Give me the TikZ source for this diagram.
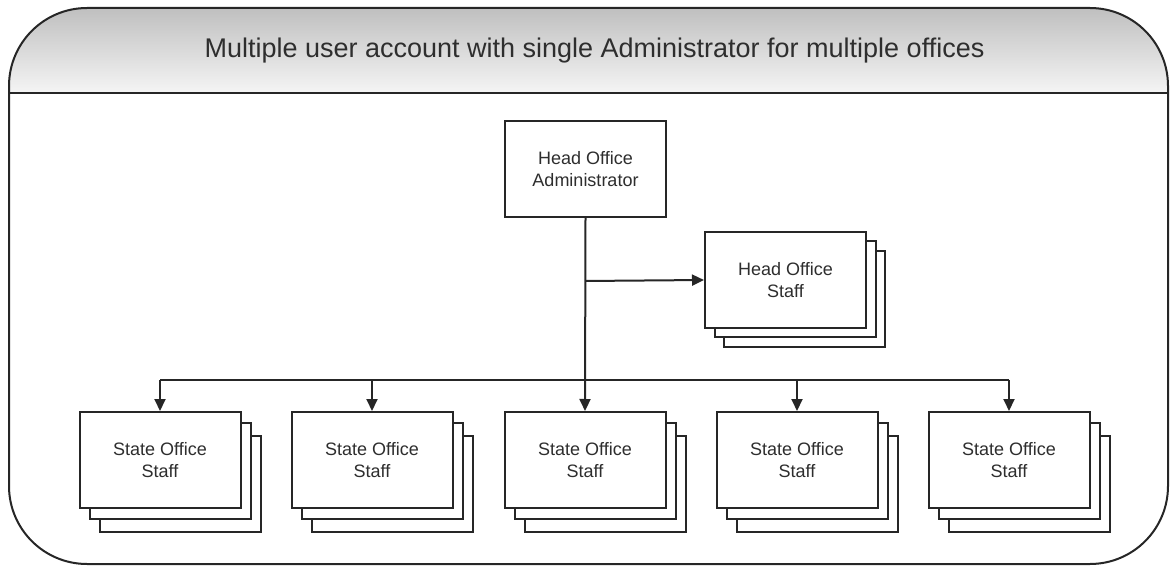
\documentclass[tikz,border=0pt]{standalone}
\usepackage{fontspec}
\setmainfont{Liberation Sans}
\usetikzlibrary{arrows.meta}
\definecolor{linec}{HTML}{262626}
\definecolor{textc}{HTML}{2E2E2E}
\tikzset{
  outline/.style={draw=linec, line width=2pt},
  box/.style={draw=linec, line width=2pt, fill=white, minimum width=161pt, minimum height=96pt,
    inner sep=0pt, align=center, text=textc, font=\fontsize{18}{22}\selectfont},
  conn/.style={draw=linec, line width=2pt},
  arr/.style={conn, -{Triangle[length=12pt,width=11pt]}},
}
\begin{document}
\begin{tikzpicture}[x=1pt,y=-1pt]
\useasboundingbox (0,0) rectangle (1173,569);
% outer frame with title band
\begin{scope}
  \clip[rounded corners=78pt] (9,8) rectangle (1168,564);
  \shade[top color=black!25, bottom color=black!4] (9,8) rectangle (1168,93);
\end{scope}
\draw[outline] (9,93) -- (1168,93);
\draw[outline, rounded corners=78pt] (9,8) rectangle (1168,564);
\node[anchor=base, text=textc, font=\fontsize{27}{32}\selectfont] (title) at (594.5,58)
  {Multiple user account with single Administrator for multiple offices};

% head office administrator
\node[box] (admin) at (585.5,169) {Head Office\\Administrator};

% head office staff stack
\node[box] (hs3) at (804.5,299) {};
\node[box] (hs2) at (795.5,289) {};
\node[box] (hs) at (785.5,280) {Head Office\\Staff};

% state office stacks
\foreach \i/\x in {1/160,2/372,3/585,4/797,5/1009}{
  \node[box] (s\i c) at (\x+20,484) {};
  \node[box] (s\i b) at (\x+10,471) {};
  \node[box] (s\i) at (\x,460) {State Office\\Staff};
}

% connectors
\coordinate (bus) at (585,380);
\coordinate (jhs) at (585,281);
\draw[arr] (admin.south) -- (s3.north);
\draw[arr] (jhs) -- (hs.west);
\draw[conn] (s1.north |- bus) -- (s5.north |- bus);
\foreach \i in {1,2,4,5}{
  \draw[arr] (s\i.north |- bus) -- (s\i.north);
}
\end{tikzpicture}
\end{document}
